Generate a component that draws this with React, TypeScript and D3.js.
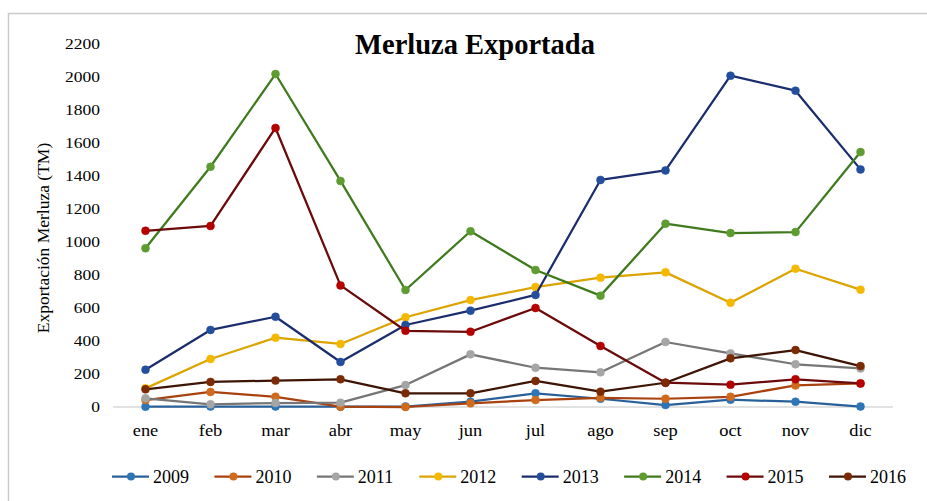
import React from 'react'
import * as d3 from 'd3'

const months = ['ene', 'feb', 'mar', 'abr', 'may', 'jun', 'jul', 'ago', 'sep', 'oct', 'nov', 'dic']
const years = ['2009', '2010', '2011', '2012', '2013', '2014', '2015', '2016']
const yTicks = [0, 200, 400, 600, 800, 1000, 1200, 1400, 1600, 1800, 2000, 2200]

const v2009 = [2, 3, 3, 2, 3, 32, 83, 50, 12, 44, 32, 3]
const v2010 = [42, 91, 62, 2, 0, 22, 42, 56, 50, 62, 131, 143]
const v2011 = [53, 16, 24, 26, 133, 319, 238, 210, 394, 325, 259, 234]
const v2012 = [113, 291, 420, 382, 544, 648, 727, 784, 816, 632, 838, 711]
const v2013 = [226, 467, 547, 273, 497, 584, 679, 1376, 1434, 2008, 1917, 1440]
const v2014 = [962, 1456, 2018, 1370, 709, 1065, 830, 675, 1111, 1054, 1060, 1545]
const v2015 = [1068, 1097, 1691, 737, 462, 456, 600, 370, 147, 135, 168, 143]
const v2016 = [107, 152, 160, 168, 83, 83, 158, 93, 147, 295, 345, 248]

const lineColors = ['#2a6099', '#a9420f', '#767676', '#dca400', '#1c2d6e', '#3f7a1e', '#6b0a0a', '#3d1405']
const dotColors = ['#2e75b6', '#d06b1c', '#a5a5a5', '#f5b800', '#234e9c', '#5e9b30', '#b50000', '#7a2a05']

const W = 927
const H = 501
const font = '"Liberation Serif", "Times New Roman", serif'

const App = () => {
  const series = [v2009, v2010, v2011, v2012, v2013, v2014, v2015, v2016]

  const x = d3.scalePoint<string>().domain(months).range([113, 893]).padding(0.5)
  const y = d3.scaleLinear().domain([0, 2200]).range([407, 44])

  const line = d3.line<number>()
    .x((_, i) => x(months[i]) as number)
    .y(d => y(d))

  // legend positions
  const legendX = d3.scalePoint<string>().domain(years).range([112, 829])

  return (
    <svg width={W} height={H} style={{ position: 'absolute', left: 0, top: 0, background: '#fff' }}>
      <rect x={8.5} y={13.5} width={940} height={520} fill="#fff" stroke="#c9c9c9" strokeWidth={1.5} />

      <text x={475} y={54} textAnchor="middle" fontFamily={font} fontWeight="bold" fontSize={28.5} fill="#000">
        Merluza Exportada
      </text>

      <text transform="translate(49,238) rotate(-90)" textAnchor="middle" fontFamily={font} fontSize={17.5} fill="#000">
        Exportación Merluza (TM)
      </text>

      {yTicks.map(t => (
        <text key={t} transform={`translate(100,${y(t)}) scale(1.25,1)`} textAnchor="end" dominantBaseline="central"
          fontFamily={font} fontSize={14} fill="#000">{t}</text>
      ))}

      <line x1={113} x2={893} y1={y(0)} y2={y(0)} stroke="#d9d9d9" strokeWidth={1.3} />

      {months.map(m => (
        <text key={m} transform={`translate(${x(m)},436) scale(1.15,1)`} textAnchor="middle"
          fontFamily={font} fontSize={16} fill="#000">{m}</text>
      ))}

      {series.map((s, i) => (
        <g key={years[i]}>
          <path d={line(s) || ''} fill="none" stroke={lineColors[i]} strokeWidth={2.25} strokeLinejoin="round" />
          {s.map((v, j) => (
            <circle key={j} cx={x(months[j])} cy={y(v)} r={4} fill={dotColors[i]} stroke={dotColors[i]} strokeWidth={0.5} />
          ))}
        </g>
      ))}

      {years.map((yr, i) => {
        const lx = legendX(yr) as number
        return (
          <g key={yr} transform={`translate(${lx},476.5)`}>
            <line x1={0} x2={37} y1={0} y2={0} stroke={lineColors[i]} strokeWidth={2.25} />
            <circle cx={19} cy={0} r={4} fill={dotColors[i]} />
            <text x={41} y={0} dominantBaseline="central" fontFamily={font} fontSize={18} fill="#000">{yr}</text>
          </g>
        )
      })}
    </svg>
  )
}

export default App
